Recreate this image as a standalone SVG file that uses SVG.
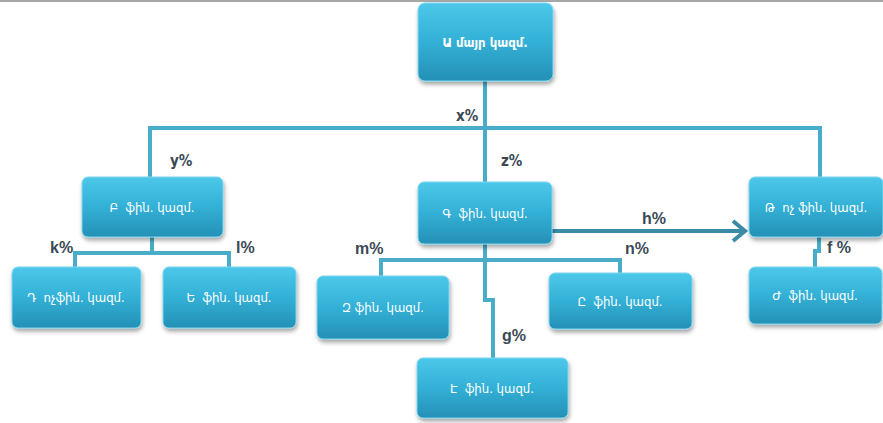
<svg xmlns="http://www.w3.org/2000/svg" width="883" height="423" viewBox="0 0 883 423">
<style>
.box{fill:url(#g);stroke:#7fd6ee;stroke-width:1;filter:url(#sh)}
.bt{font-family:"DejaVu Sans Condensed","DejaVu Sans","Noto Sans",sans-serif;font-size:13px;fill:#ffffff;text-anchor:middle;dominant-baseline:central;white-space:pre}
.lb{font-family:"Liberation Sans",Arial,sans-serif;font-weight:bold;font-size:16px;fill:#3b4955}
.ln{font-family:"DejaVu Sans Condensed","Liberation Sans",sans-serif;font-weight:bold;font-size:15px;fill:#3b4955}
.c{fill:none;stroke:#4aadc8;stroke-width:4}
</style>
<defs>
<linearGradient id="g" x1="0" y1="0" x2="0" y2="1">
<stop offset="0" stop-color="#4cc8ea"/>
<stop offset="0.5" stop-color="#33b0d6"/>
<stop offset="1" stop-color="#2590b6"/>
</linearGradient>
<filter id="sh" x="-10%" y="-10%" width="120%" height="130%">
<feDropShadow dx="1" dy="3" stdDeviation="2" flood-color="#000" flood-opacity="0.35"/>
</filter>
<marker id="ar" markerUnits="userSpaceOnUse" markerWidth="20" markerHeight="24" refX="15" refY="12" orient="auto">
<path d="M3,2 L15,12 L3,22" fill="none" stroke="#3a8ca6" stroke-width="4" stroke-linejoin="miter"/>
</marker>
</defs>
<line x1="0" y1="1" x2="883" y2="1" stroke="#8a8a8a" stroke-width="1.5"/>
<g id="connectors">
<path class="c" d="M485,81 V182"/>
<path class="c" d="M150,177 V128 H820 V177"/>
<path class="c" d="M152,237 V253"/>
<path class="c" d="M75,267 V253 H229 V267"/>
<path class="c" d="M485,244 V300 H493 V358"/>
<path class="c" d="M381,276 V260 H620 V273"/>
<path class="c" d="M819,237 V251 H815 V267"/>
<path d="M552,231 H745" fill="none" stroke="#3a8ca6" stroke-width="4" marker-end="url(#ar)"/>
</g>
<g id="nA"><rect class="box" x="418" y="3" width="135" height="78" rx="7"/><text class="bt" x="485" y="42" font-weight="bold">Ա մայր կազմ.</text></g>
<g id="nB"><rect class="box" x="82" y="177" width="141" height="60" rx="6"/><text class="bt" x="152" y="207" xml:space="preserve">Բ  ֆին. կազմ.</text></g>
<g id="nG"><rect class="box" x="418" y="182" width="134" height="62" rx="6"/><text class="bt" x="485" y="213" xml:space="preserve">Գ  ֆին. կազմ.</text></g>
<g id="nT"><rect class="box" x="749" y="177" width="134" height="60" rx="6"/><text class="bt" x="816" y="207" xml:space="preserve">Թ  ոչ ֆին. կազմ.</text></g>
<g id="nD"><rect class="box" x="12" y="267" width="129" height="61" rx="6"/><text class="bt" x="76" y="297" xml:space="preserve">Դ  ոչֆին. կազմ.</text></g>
<g id="nE"><rect class="box" x="163" y="267" width="133" height="61" rx="6"/><text class="bt" x="229" y="297" xml:space="preserve">Ե  ֆին. կազմ.</text></g>
<g id="nZ"><rect class="box" x="317" y="276" width="132" height="63" rx="6"/><text class="bt" x="383" y="307">Զ ֆին. կազմ.</text></g>
<g id="nEh"><rect class="box" x="417" y="358" width="151" height="60" rx="6"/><text class="bt" x="492" y="388" xml:space="preserve">Է  ֆին. կազմ.</text></g>
<g id="nY"><rect class="box" x="549" y="273" width="143" height="56" rx="6"/><text class="bt" x="620" y="301" xml:space="preserve">Ը  ֆին. կազմ.</text></g>
<g id="nZh"><rect class="box" x="749" y="267" width="133" height="57" rx="6"/><text class="bt" x="815" y="295" xml:space="preserve">Ժ  ֆին. կազմ.</text></g>
<g id="labels">
<text class="ln" x="456" y="121">x%</text>
<text class="ln" x="170" y="166">y%</text>
<text class="ln" x="501" y="166">z%</text>
<text class="lb" x="50" y="253">k%</text>
<text class="lb" x="236" y="253">l%</text>
<text class="lb" x="355" y="254">m%</text>
<text class="lb" x="625" y="254">n%</text>
<text class="lb" x="642" y="224">h%</text>
<text class="lb" x="827" y="253">f %</text>
<text class="lb" x="502" y="341">g%</text>
</g>
</svg>
